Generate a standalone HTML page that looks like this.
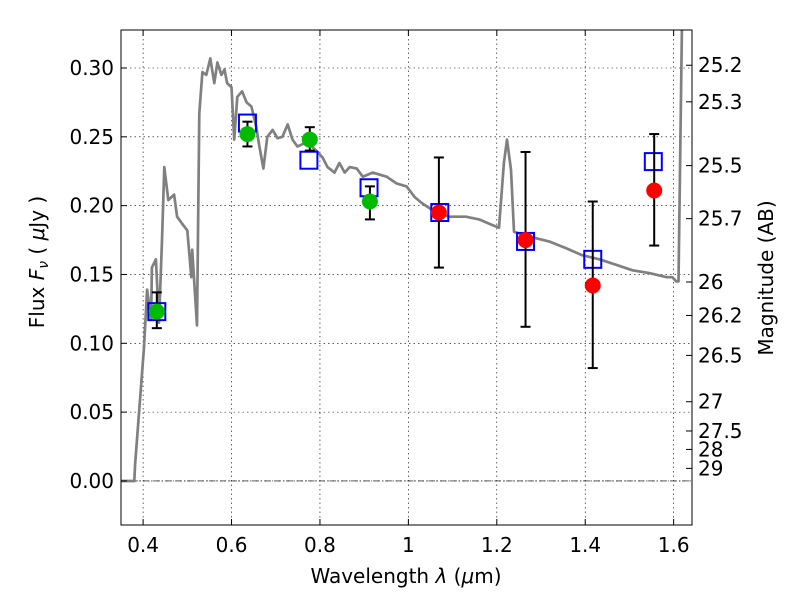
<!DOCTYPE html>
<html><head><meta charset="utf-8"><style>
body{margin:0;background:#fff;}
svg{display:block;font-family:"DejaVu Sans","Liberation Sans",sans-serif;}
</style></head><body>
<svg id="c" width="800" height="600" xmlns="http://www.w3.org/2000/svg"></svg>
<script>
const xTicks=[0.4,0.6,0.8,1.0,1.2,1.4,1.6];
const xTickLabels=["0.4","0.6","0.8","1","1.2","1.4","1.6"];
const yTicks=[0,0.05,0.10,0.15,0.20,0.25,0.30];
const yTickLabels=["0.00","0.05","0.10","0.15","0.20","0.25","0.30"];
const magTicks=[25.2,25.3,25.5,25.7,26,26.2,26.5,27,27.5,28,29];
const magTickLabels=["25.2","25.3","25.5","25.7","26","26.2","26.5","27","27.5","28","29"];
const specX=[0.346,0.380,0.382,0.402,0.409,0.418,0.420,0.429,0.436,0.443,0.448,0.457,0.470,0.477,0.488,0.500,0.509,0.511,0.522,0.527,0.534,0.543,0.552,0.561,0.568,0.577,0.584,0.590,0.600,0.606,0.613,0.624,0.634,0.645,0.656,0.663,0.672,0.681,0.693,0.704,0.715,0.727,0.738,0.749,0.770,0.792,0.806,0.817,0.833,0.844,0.856,0.867,0.883,0.897,0.919,0.951,0.974,0.996,1.015,1.030,1.053,1.092,1.130,1.160,1.189,1.205,1.216,1.223,1.232,1.239,1.280,1.318,1.357,1.393,1.432,1.470,1.507,1.545,1.584,1.597,1.606,1.611,1.620];
const specY=[0,0,0.012,0.097,0.139,0.117,0.155,0.161,0.115,0.177,0.228,0.204,0.208,0.192,0.187,0.182,0.148,0.168,0.113,0.267,0.297,0.295,0.307,0.289,0.304,0.295,0.299,0.289,0.286,0.248,0.279,0.283,0.275,0.272,0.257,0.243,0.227,0.250,0.255,0.249,0.250,0.259,0.248,0.243,0.246,0.240,0.235,0.228,0.224,0.231,0.224,0.228,0.227,0.221,0.224,0.221,0.216,0.214,0.206,0.202,0.197,0.192,0.192,0.190,0.186,0.184,0.231,0.248,0.226,0.181,0.177,0.174,0.169,0.164,0.161,0.157,0.153,0.151,0.148,0.148,0.145,0.145,0.36];
const greenX=[0.431,0.636,0.777,0.913];
const greenY=[0.123,0.252,0.248,0.203];
const greenLo=[0.111,0.243,0.240,0.190];
const greenHi=[0.137,0.261,0.257,0.214];
const redX=[1.069,1.265,1.417,1.556];
const redY=[0.195,0.175,0.142,0.211];
const redLo=[0.155,0.112,0.082,0.171];
const redHi=[0.235,0.239,0.203,0.252];
const modelX=[0.431,0.636,0.775,0.911,1.071,1.265,1.417,1.554];
const modelY=[0.123,0.260,0.233,0.213,0.195,0.174,0.161,0.232];

const L=121,R=692,T=30,B=525,X0=0.35,X1=1.6415,Y0=-0.032,Y1=0.3276;
const sx=v=>L+(v-X0)/(X1-X0)*(R-L);
const sy=v=>B-(v-Y0)/(Y1-Y0)*(B-T);
const NS="http://www.w3.org/2000/svg";
const svg=document.getElementById('c');
function mk(tag,attrs,parent){const e=document.createElementNS(NS,tag);for(const k in attrs)e.setAttribute(k,attrs[k]);(parent||svg).appendChild(e);return e;}
const defs=mk('defs',{});const cp=mk('clipPath',{id:'clip'},defs);mk('rect',{x:L,y:T,width:R-L,height:B-T},cp);

const grid=mk('g',{});


xTicks.forEach(v=>{mk('line',{x1:sx(v),x2:sx(v),y1:T,y2:B,stroke:'#000','stroke-width':0.6,'stroke-dasharray':'1.5,3'},grid);});
yTicks.forEach(v=>{mk('line',{x1:L,x2:R,y1:sy(v),y2:sy(v),stroke:'#000','stroke-width':0.6,'stroke-dasharray':'1.5,3'},grid);});
const zl=mk('line',{x1:L,x2:R,y1:sy(0),y2:sy(0),stroke:'#000','stroke-width':0.7,'stroke-dasharray':'6,2,1,2'});



const plot=mk('g',{'clip-path':'url(#clip)'});
let d=specX.map((x,i)=>(i?'L':'M')+sx(x).toFixed(1)+' '+sy(specY[i]).toFixed(1)).join(' ');
const sp=mk('path',{d:d,fill:'none',stroke:'#808080','stroke-width':2.7,'stroke-linejoin':'round'},plot);



function errbar(x,lo,hi,name){const g=mk('g',{stroke:'#000','stroke-width':2},plot);


mk('line',{x1:sx(x),x2:sx(x),y1:sy(lo),y2:sy(hi)},g);
mk('line',{x1:sx(x)-5,x2:sx(x)+5,y1:sy(lo),y2:sy(lo)},g);
mk('line',{x1:sx(x)-5,x2:sx(x)+5,y1:sy(hi),y2:sy(hi)},g);}
modelX.forEach((x,i)=>{const r=mk('rect',{x:sx(x)-8.5,y:sy(modelY[i])-8.5,width:17,height:17,fill:'none',stroke:'#0000ff','stroke-width':2},plot);

});
greenX.forEach((x,i)=>{errbar(x,greenLo[i],greenHi[i],'green-errorbar');const c=mk('circle',{cx:sx(x),cy:sy(greenY[i]),r:8,fill:'#00bb00'},plot);

});
redX.forEach((x,i)=>{errbar(x,redLo[i],redHi[i],'red-errorbar');const c=mk('circle',{cx:sx(x),cy:sy(redY[i]),r:8,fill:'#ff0000'},plot);

});

const fr=mk('rect',{x:L,y:T,width:R-L,height:B-T,fill:'none',stroke:'#000','stroke-width':1});



xTicks.forEach((v,i)=>{mk('line',{x1:sx(v),x2:sx(v),y1:B,y2:B-6,stroke:'#000'});mk('line',{x1:sx(v),x2:sx(v),y1:T,y2:T+6,stroke:'#000'});
const t=mk('text',{x:sx(v),y:B+27,'font-size':20,'text-anchor':'middle'});t.textContent=xTickLabels[i];

});
yTicks.forEach((v,i)=>{mk('line',{x1:L,x2:L+6,y1:sy(v),y2:sy(v),stroke:'#000'});
const t=mk('text',{x:L-7,y:sy(v)+7,'font-size':20,'text-anchor':'end'});t.textContent=yTickLabels[i];

});
magTicks.forEach((m,i)=>{const f=Math.pow(10,(23.9-m)/2.5);mk('line',{x1:R,x2:R-6,y1:sy(f),y2:sy(f),stroke:'#000'});
const t=mk('text',{x:R+6,y:sy(f)+7,'font-size':20});t.textContent=magTickLabels[i];

});

const xl=mk('text',{x:406,y:583,'font-size':20,'text-anchor':'middle'});xl.innerHTML='Wavelength  <tspan font-style="italic">λ</tspan> (<tspan font-style="italic">μ</tspan>m)';


const yl=mk('text',{x:0,y:0,'font-size':20,'text-anchor':'middle',transform:'translate(44,262) rotate(-90)'});yl.innerHTML='Flux  <tspan font-style="italic">F</tspan><tspan font-style="italic" font-size="14" dy="4">ν</tspan><tspan dy="-4">  ( </tspan><tspan font-style="italic">μ</tspan>Jy )';


const rl=mk('text',{x:0,y:0,'font-size':20,'text-anchor':'middle',transform:'translate(773,278) rotate(-90)'});rl.textContent='Magnitude (AB)';


</script>
</body></html>
